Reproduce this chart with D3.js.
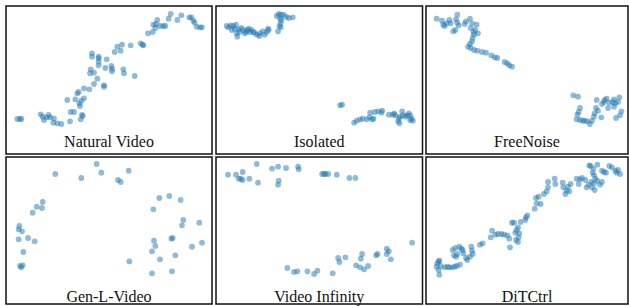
<!doctype html>
<html lang="en">

<head>
    <meta charset="utf-8">
    <title>Embedding scatter panels</title>
    <style>
        body {
            margin: 0;
            background: #fff;
        }
        .title {
            font-family: "Liberation Serif", "Times New Roman", Times, "DejaVu Serif", serif;
            font-size: 16px;
        }
    </style>
</head>

<body>
    <div id="chart"></div>
    <script src="https://d3js.org/d3.v7.min.js"></script>
    <script>

        // panel titles, in reading order
        var titles = ["Natural Video", "Isolated", "FreeNoise", "Gen-L-Video", "Video Infinity", "DiTCtrl"];

        // embedding points, [x, y] (arbitrary units)
        var naturalVideo = [
            [52, 357], [60, 357], [64, 357], [122, 343], [128, 350], [132, 360], [140, 352], [146, 345], [150, 352],
            [162, 355], [160, 368], [172, 370], [184, 372], [210, 364], [212, 336], [222, 336], [242, 358], [246, 345],
            [248, 348], [202, 300], [226, 298], [232, 280], [236, 276], [240, 318], [238, 310], [244, 302], [252, 295],
            [252, 265], [268, 268], [282, 252], [292, 236], [312, 256], [312, 260], [270, 220], [272, 208], [282, 218],
            [296, 196], [296, 185], [296, 175], [276, 160], [276, 170], [296, 170], [320, 178], [316, 204], [334, 198],
            [336, 206], [336, 214], [370, 208], [372, 220], [404, 228], [344, 156], [352, 140], [362, 152], [366, 134],
            [392, 136], [422, 130], [428, 134], [430, 136], [444, 100], [458, 96], [466, 84], [460, 74], [468, 72],
            [472, 60], [480, 78], [490, 78], [496, 78], [506, 56], [512, 42], [532, 60], [544, 46], [568, 52], [574, 52],
            [580, 62], [584, 68], [590, 80], [600, 82], [606, 82]
        ];

        var isolated = [
            [50, 78], [56, 82], [62, 76], [66, 90], [70, 78], [74, 86], [78, 74], [80, 100], [82, 110], [86, 88],
            [88, 96], [94, 84], [100, 90], [104, 100], [108, 96], [112, 90], [116, 86], [120, 96], [124, 90], [130, 96],
            [134, 98], [140, 104], [148, 108], [150, 100], [158, 94], [164, 104], [170, 96], [176, 90], [174, 86],
            [200, 48], [206, 42], [212, 44], [210, 56], [214, 60], [212, 70], [208, 78], [212, 82], [204, 94], [220, 44],
            [228, 50], [236, 54], [248, 52], [390, 316], [396, 314], [432, 368], [440, 362], [450, 358], [458, 356],
            [470, 358], [478, 352], [486, 358], [490, 356], [480, 338], [494, 336], [504, 334], [514, 338], [516, 332],
            [536, 344], [548, 344], [552, 340], [564, 364], [566, 356], [570, 350], [568, 370], [576, 334], [586, 350],
            [590, 346], [596, 340], [600, 346], [600, 360], [604, 356], [608, 362], [578, 346], [556, 346]
        ];

        var freeNoise = [
            [50, 56], [66, 62], [70, 74], [74, 78], [80, 70], [88, 60], [92, 70], [100, 94], [106, 90], [108, 58],
            [112, 44], [112, 68], [116, 76], [134, 72], [138, 64], [150, 56], [152, 84], [156, 70], [160, 96], [162, 104],
            [166, 90], [170, 74], [174, 100], [158, 114], [156, 124], [150, 132], [144, 140], [152, 144], [162, 150],
            [172, 152], [186, 156], [198, 158], [214, 166], [224, 172], [232, 174], [254, 186], [262, 190], [268, 196],
            [276, 200], [460, 286], [474, 290], [480, 324], [476, 336], [472, 344], [470, 358], [480, 360], [488, 362],
            [494, 362], [502, 364], [510, 372], [516, 362], [522, 350], [524, 340], [528, 324], [534, 332], [530, 300],
            [544, 352], [546, 312], [552, 306], [554, 300], [560, 296], [564, 324], [568, 308], [578, 306], [582, 320],
            [582, 298], [586, 310], [594, 306], [598, 292], [600, 346], [604, 334], [588, 354]
        ];

        var genLVideo = [
            [290, 42], [166, 72], [244, 84], [304, 68], [354, 90], [362, 96], [386, 62], [128, 156], [110, 170],
            [126, 174], [98, 188], [58, 228], [56, 238], [66, 244], [56, 268], [84, 264], [104, 274], [70, 306],
            [60, 348], [64, 352], [68, 346], [388, 334], [478, 144], [508, 138], [542, 150], [460, 178], [550, 210],
            [546, 226], [598, 218], [462, 272], [466, 288], [456, 304], [514, 266], [518, 264], [606, 278], [576, 290],
            [526, 316], [480, 328], [456, 370], [516, 364]
        ];

        var videoInfinity = [
            [54, 74], [78, 74], [86, 86], [92, 86], [98, 66], [98, 90], [118, 86], [140, 42], [144, 98], [186, 56],
            [204, 50], [228, 54], [264, 50], [266, 58], [206, 92], [204, 104], [336, 72], [342, 72], [346, 72],
            [354, 72], [380, 74], [418, 84], [436, 84], [232, 354], [252, 366], [262, 364], [292, 364], [312, 372],
            [322, 362], [368, 370], [384, 324], [388, 336], [406, 322], [438, 346], [450, 352], [462, 358], [474, 348],
            [452, 326], [456, 312], [498, 316], [502, 312], [530, 296], [536, 304], [530, 312], [542, 328], [606, 278]
        ];

        var ditCtrl = [
            [52, 340], [56, 334], [58, 332], [50, 350], [56, 360], [58, 374], [62, 348], [74, 352], [82, 350], [88, 352],
            [96, 352], [104, 350], [110, 348], [120, 344], [98, 300], [106, 294], [102, 316], [108, 320], [112, 312],
            [118, 290], [124, 296], [128, 300], [130, 310], [138, 324], [142, 330], [150, 320], [154, 290], [156, 302],
            [158, 312], [180, 284], [188, 280], [216, 242], [212, 262], [226, 254], [234, 252], [244, 252], [252, 254],
            [262, 256], [268, 266], [270, 292], [276, 218], [282, 218], [286, 248], [290, 240], [288, 270], [294, 276],
            [294, 232], [296, 262], [298, 250], [302, 216], [316, 210], [322, 196], [318, 202], [344, 176], [350, 160],
            [348, 144], [356, 140], [362, 162], [372, 132], [380, 124], [384, 112], [384, 96], [404, 86], [406, 102],
            [428, 98], [430, 112], [436, 132], [440, 122], [444, 110], [448, 124], [452, 102], [470, 86], [476, 102],
            [480, 88], [486, 84], [496, 90], [500, 112], [506, 104], [514, 96], [516, 112], [522, 100], [526, 86],
            [524, 120], [532, 92], [540, 104], [546, 96], [508, 46], [512, 48], [520, 56], [518, 68], [522, 76],
            [532, 44], [546, 62], [552, 66], [558, 68], [568, 48], [576, 52], [586, 62], [590, 68], [594, 60], [600, 72]
        ];

        var series = [naturalVideo, isolated, freeNoise, genLVideo, videoInfinity, ditCtrl];

        // layout
        var width = 629, height = 306;
        var colX = [[6, 212], [216, 422.5], [426, 628]];
        var rowY = [[6, 154], [157, 304]];
        var domX = [[18, 636], [18, 637], [18, 624]];
        var domY = [[18, 462], [21, 462]];

        var svg = d3.select("#chart").append("svg")
            .attr("width", width)
            .attr("height", height);

        series.forEach(function (pts, i) {
            var c = i % 3, r = Math.floor(i / 3);
            var x = d3.scaleLinear().domain(domX[c]).range(colX[c]);
            var y = d3.scaleLinear().domain(domY[r]).range(rowY[r]);

            var g = svg.append("g");

            g.selectAll("circle")
                .data(pts)
                .enter()
                .append("circle")
                .attr("cx", function (d) { return x(d[0]); })
                .attr("cy", function (d) { return y(d[1]); })
                .attr("r", 2.9)
                .style("fill", "#1f77b4")
                .style("fill-opacity", 0.5);

            g.append("rect")
                .attr("x", colX[c][0])
                .attr("y", rowY[r][0])
                .attr("width", colX[c][1] - colX[c][0])
                .attr("height", rowY[r][1] - rowY[r][0])
                .style("fill", "none")
                .style("stroke", "#111")
                .style("stroke-width", 1.5);

            g.append("text")
                .attr("class", "title")
                .attr("x", (colX[c][0] + colX[c][1]) / 2)
                .attr("y", r == 0 ? 146.7 : 301.7)
                .attr("text-anchor", "middle")
                .style("fill", "#111")
                .text(titles[i]);
        });

    </script>
</body>

</html>
